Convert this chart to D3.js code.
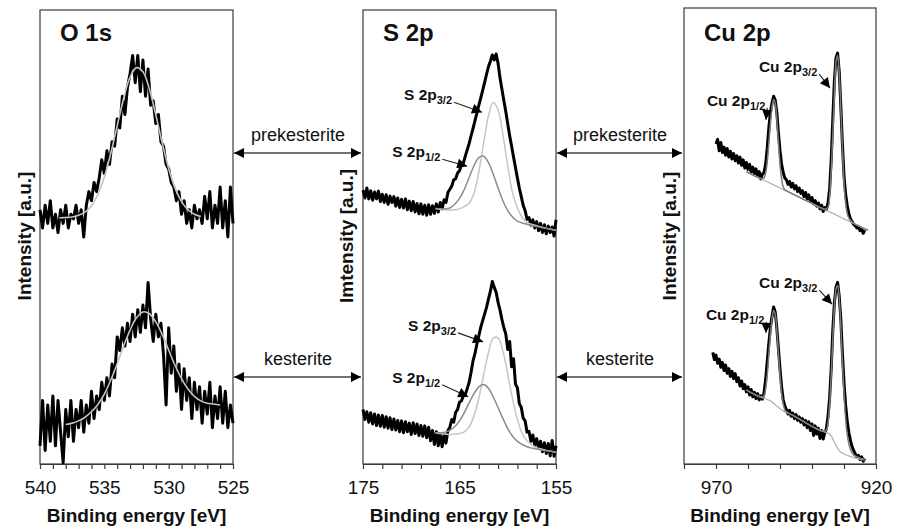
<!DOCTYPE html>
<html>
<head>
<meta charset="utf-8">
<script src="https://cdn.jsdelivr.net/npm/d3@7"></script>
<style>
  body { margin: 0; background: #fff; }
  svg text { font-family: "Liberation Sans", Arial, sans-serif; fill: #111; }
</style>
</head>
<body>
<svg id="chart" width="897" height="531"></svg>
<script>
// ---------- data (intensity in a.u.) ----------

// O 1s, sampled every 0.2 eV from 540 to 525
const o1sEnergy = d3.range(540, 524.99, -0.2);
const o1sPre = [56,52,57,53,58,52,55,51,56,53,57,52,55,54,57,53,56,50,57,60,
  58,62,60,63,67,64,69,66,71,70,76,74,81,77,83,86,90,84,90,82,
  89,81,87,79,80,75,77,71,70,66,65,62,61,58,60,55,58,53,56,52,
  57,54,56,53,59,54,60,52,57,53,61,52,58,50,61,53];
const o1sKes = [4,14,3,13,5,15,4,14,7,0.3,12,6,14,5,12,8,14,7,13,9,
  16,10,15,12,18,14,19,15,22,19,28,25,30,26,31,27,33,28,34,29,
  35,30,40,32,27,33,28,31,24,13,30,20,26,16,22,12,21,14,19,10,
  18,12,17,9,16,11,18,8,15,10,17,9,16,8,13,9];
const o1sPreFit = [[538.5,54.2],[538,54.3],[537.5,54.4],[537,54.8],[536.5,55.5],[536,56.9],
  [535.5,59.4],[535,63.2],[534.5,68.4],[534,74.5],[533.5,80.5],[533,85.2],[532.5,87.3],
  [532,86.4],[531.5,82.6],[531,76.9],[530.5,70.7],[530,65.1],[529.5,60.7],[529,57.8],
  [528.5,56],[528,55],[527.5,54.5]];
const o1sKesFit = [[538,8.7],[537.5,9],[537,9.5],[536.5,10.3],[536,11.5],[535.5,13.1],
  [535,15.4],[534.5,18.5],[534,22.1],[533.5,26],[533,29.5],[532.5,32.2],[532,33.5],
  [531.5,33.1],[531,31.3],[530.5,28.5],[530,25.1],[529.5,21.7],[529,18.8],[528.5,16.5],
  [528,14.9],[527.5,13.9],[527,13.4],[526.5,13.2],[526,13]];

// S 2p, sampled every 0.2 eV from 175 to 155
const s2pEnergy = d3.range(175, 154.99, -0.2);
const s2pPre = [60.3,58.6,60.8,58.4,60.2,58.1,59.9,58.4,60.1,57.8,59.4,57.6,59.3,57.2,59,57.6,58.9,56.8,58.6,56.5,
  58.3,56.4,58.4,56,57.9,55.8,57.8,55.5,57.4,55.1,57.3,55,57,54.8,57.1,55,56.9,55.2,57.3,55.5,
  57.6,56.2,58.2,57.6,59.8,60.5,61.2,62.6,62.8,64.1,64.6,65.9,66.3,67.8,69.2,70.6,72.3,73.9,75.6,77.3,
  79,80.6,82.3,84,85.8,87.5,88.7,90.1,89,90.3,88.2,85,82.5,80,77.6,74.9,72.3,70,67.6,65.3,
  63,60.8,58.9,57,55.8,53.9,54.3,52.6,53.8,52,53.4,51.4,53,51,52.7,50.7,52.4,51,52.2,50.2,53.8];
const s2pKes = [12,9.8,11.5,9.2,11.3,8.8,11,8.5,10.8,8.3,10.7,8.1,10.4,7.9,10.2,7.6,9.9,7.5,9.6,7.1,
  9.5,6.9,9.3,7.1,9,6.5,9.1,6.7,8.8,6.3,8.5,6.1,8.4,5.8,8.1,5.1,7.4,4.3,7.1,4,
  6.7,3.8,6.5,4.6,7.4,8.1,9.8,9.2,11.4,12,13.6,13.9,15,15.3,16.6,18,20.2,22.7,24.3,26.4,
  28.2,30.1,31.6,33,34.5,36.3,38,40.2,38.9,37.8,35.6,33.9,31.8,30,28.6,25.2,27,21.4,23.2,17.6,
  16.8,13.3,12.5,10.1,9.5,7,7.2,5,6.4,4,5.6,3.4,5,2.7,4.7,2.3,4.5,1.8,5.2,1.7,4];
const s2pPre32 = [[167.5,56.3],[167,56.1],[166.5,56],[166,55.9],[165.5,56],[165,56.2],[164.5,56.7],
  [164,57.5],[163.5,59.6],[163,64.3],[162.5,70.6],[162,76.6],[161.5,79.6],[161,78],[160.5,72.5],
  [160,65.6],[159.5,59.7],[159,56.4],[158.5,54.3],[158,53.2],[157.5,52.8],[157,52.5],[156.5,52.2],
  [156,51.9],[155.5,51.7],[155,51.5]];
const s2pPre12 = [[167.5,56.3],[167,56.2],[166.5,56.2],[166,56.4],[165.5,57.2],[165,58.5],[164.5,60.5],
  [164,63.1],[163.5,65.7],[163,67.5],[162.5,67.8],[162,66.4],[161.5,63.8],[161,60.8],[160.5,58],
  [160,55.8],[159.5,54.4],[159,53.5],[158.5,53.1],[158,52.8],[157.5,52.5],[157,52.3],[156.5,52.1],
  [156,51.9],[155.5,51.7],[155,51.5]];
const s2pKes32 = [[167.5,6.9],[167,6.7],[166.5,6.6],[166,6.5],[165.5,6.6],[165,6.7],[164.5,7.1],
  [164,8.2],[163.5,10.6],[163,14.5],[162.5,19.6],[162,24.5],[161.5,27.7],[161,27.8],[160.5,24.9],
  [160,19.8],[159.5,14.3],[159,9.8],[158.5,6.7],[158,5.1],[157.5,4.2],[157,3.6],[156.5,3.3],
  [156,3],[155.5,2.8],[155,2.6]];
const s2pKes12 = [[167.5,6.9],[167,6.9],[166.5,7],[166,7.4],[165.5,8.2],[165,9.5],[164.5,11.3],
  [164,13.5],[163.5,15.5],[163,17],[162.5,17.5],[162,16.7],[161.5,14.8],[161,12.4],[160.5,10],
  [160,7.8],[159.5,6.1],[159,5],[158.5,4.3],[158,3.8],[157.5,3.5],[157,3.3],[156.5,3.1],
  [156,2.9],[155.5,2.8],[155,2.6]];

// Cu 2p, sampled every 0.5 eV
const cuPreEnergy = d3.range(970, 923.49, -0.5);
const cuPre = [70.5,71.5,69,70.8,68.6,69.8,68,69.5,67.6,68.9,67.2,68.4,66.8,67.9,66.3,67.6,65.8,67,65.2,66.4,
  64.9,66,64.3,65.4,63.9,65,63.5,64.4,62.8,63.8,64.2,66,69.5,74,77.5,79.5,81,80.2,77.5,73,
  69,66,64.2,63,62.6,61.6,62.2,61,61.8,60.6,61.3,60,60.8,59.6,60.2,58.9,59.8,58.4,59.3,57.8,
  58.7,57.3,58,56.8,57.5,56.2,57,55.6,56.5,56,57.5,60.5,67,76,84.5,89.5,90.5,86.5,79,70.5,
  63.5,59.5,57,55.2,54,53.4,52.8,52.5,52,52.2,51.4,51.9,50.8,51.5];
const cuKesEnergy = d3.range(971, 923.49, -0.5);
const cuKes = [24.6,23,24,22.2,23.1,21.3,22.4,20.6,21.8,20,21,19.3,20.4,18.8,19.9,18.1,19,17.2,18.3,16.6,
  17.5,15.9,17,15.2,16.4,14.8,15.8,14.4,15.5,14.1,15,14.3,15.6,18.5,22.5,26.5,30,32.5,34.6,33.5,
  30,25.5,21,17,14.2,12.8,12,11,11.8,10.5,11.2,10,10.9,9.6,10.4,9.2,10,8.6,9.6,8,
  9.3,7.4,8.8,6.3,8.4,6.6,7.9,5.6,7.4,5.5,6.9,7.8,10.5,14.5,21,29.5,35.5,39,40,37,
  32,24.5,18,13,9.5,7,5.2,3.9,3,2.3,1.6,1.9,1,1.6,0.6,1.2];
const cuPreBg = [[960.5,64.4],[955,62.5],[950,60.8],[945,59.1],[940,57.4],[935,55.7],[932,54.7],
  [930,54],[927,53],[925,52.3],[922.5,51.5]];
const cuPreFit = [[960.5,64.4],[956,62.9],[955,63],[954.5,64],[954,66.5],[953.5,70.5],[953,75],
  [952.5,78.5],[952,80.3],[951.5,79.5],[951,76],[950.5,71],[950,66],[949.5,62.8],[949,61],
  [948.5,60.4],[948,60.2],[945,59.1],[940,57.4],[936,56.1],[935,56.5],[934.5,59],[934,64.5],
  [933.5,72.5],[933,81.5],[932.5,88.5],[932,90],[931.5,86],[931,78.5],[930.5,69.5],[930,62],
  [929.5,57.5],[929,55.2],[928.5,54.2],[928,53.7],[927,53],[925,52.3],[922.5,51.5]];
const cuKesBg = [[960.5,16.3],[957,15],[955,14.5],[953,13.9],[951,12.8],[949,11.7],[946,10.7],
  [943,9.5],[940,8.3],[937,7.3],[935,6.8],[934,6.2],[933,4.8],[932,3.5],[931,2.6],[929,1.9],
  [927,1.4],[925,1.1],[923.5,0.9]];
const cuKesFit = [[960.5,16.3],[956,14.8],[955,15],[954.5,16.5],[954,19.5],[953.5,24],[953,28.5],
  [952.5,32],[952,33.8],[951.5,33],[951,29.5],[950.5,24.5],[950,19.5],[949.5,15.5],[949,13.2],
  [948.5,12],[948,11.5],[945,10.4],[940,8.3],[937,7.3],[935.5,7.5],[935,9],[934.5,13],[934,19.5],
  [933.5,27.5],[933,34.5],[932.5,38.5],[932,39.3],[931.5,36.5],[931,30.5],[930.5,22.5],[930,15.5],
  [929.5,10],[929,6.5],[928.5,4.5],[928,3.2],[927,2],[925,1.3],[923.5,1]];

// peak labels: arrow tip in data units, text offset in px from the tip
const s2pLabels = [
  { main: "S 2p", sub: "3/2", e: 162.67, v: 77.5, dx: -78, dy: -12 },
  { main: "S 2p", sub: "1/2", e: 164.2, v: 65.6, dx: -75, dy: -9 },
  { main: "S 2p", sub: "3/2", e: 162.56, v: 26.9, dx: -75, dy: -11 },
  { main: "S 2p", sub: "1/2", e: 164.1, v: 14.8, dx: -76, dy: -14 }
];
const cuLabels = [
  { main: "Cu 2p", sub: "3/2", e: 934.4, v: 82.8, dx: -71, dy: -16 },
  { main: "Cu 2p", sub: "1/2", e: 954.4, v: 75.8, dx: -59, dy: -14 },
  { main: "Cu 2p", sub: "3/2", e: 933.75, v: 35.2, dx: -73, dy: -16 },
  { main: "Cu 2p", sub: "1/2", e: 954.4, v: 28.9, dx: -60, dy: -13 }
];

const sampleNames = ["prekesterite", "kesterite"];
const sampleLevel = [153, 377];

// ---------- drawing ----------
const svg = d3.select("#chart");
const defs = svg.append("defs");
defs.append("marker").attr("id", "tri").attr("viewBox", "0 0 10 10")
  .attr("refX", 10).attr("refY", 5).attr("markerWidth", 12).attr("markerHeight", 10)
  .attr("markerUnits", "userSpaceOnUse").attr("orient", "auto-start-reverse")
  .append("path").attr("d", "M0,0L10,5L0,10Z").attr("fill", "#000");
defs.append("marker").attr("id", "tri-s").attr("viewBox", "0 0 10 10")
  .attr("refX", 10).attr("refY", 5).attr("markerWidth", 13).attr("markerHeight", 10)
  .attr("markerUnits", "userSpaceOnUse").attr("orient", "auto")
  .append("path").attr("d", "M0,0L10,5L0,10Z").attr("fill", "#000");

const pairs = (energy, vals) => vals.map((v, i) => [energy[i], v]);

const panels = [
  {
    title: "O 1s", left: 40, right: 233, top: 10, domain: [540, 525],
    ticks: d3.range(540, 524.5, -1), labels: [540, 535, 530, 525],
    ylabel: "Intensity [a.u.]", ylabelX: 31,
    series: [
      { d: pairs(o1sEnergy, o1sPre), raw: true },
      { d: pairs(o1sEnergy, o1sKes), raw: true },
      { d: o1sPreFit, color: "#c4c4c4", w: 1.6 },
      { d: o1sKesFit, color: "#c4c4c4", w: 1.6 }
    ],
    notes: []
  },
  {
    title: "S 2p", left: 363, right: 556, top: 10, domain: [175, 155],
    ticks: d3.range(175, 154.5, -2), labels: [175, 165, 155],
    ylabel: "Imtensity [a.u.]", ylabelX: 353,
    series: [
      { d: pairs(s2pEnergy, s2pPre), raw: true },
      { d: pairs(s2pEnergy, s2pKes), raw: true },
      { d: s2pPre32, color: "#c6c6c6", w: 1.5 },
      { d: s2pPre12, color: "#8c8c8c", w: 1.5 },
      { d: s2pKes32, color: "#c6c6c6", w: 1.5 },
      { d: s2pKes12, color: "#8c8c8c", w: 1.5 }
    ],
    notes: s2pLabels
  },
  {
    title: "Cu 2p", left: 684, right: 876, top: 8, domain: [980, 920],
    ticks: d3.range(980, 919, -10), labels: [970, 920],
    ylabel: "Intensity [a.u.]", ylabelX: 676,
    series: [
      { d: pairs(cuPreEnergy, cuPre), raw: true },
      { d: pairs(cuKesEnergy, cuKes), raw: true },
      { d: cuPreBg, color: "#b4b4b4", w: 1.3 },
      { d: cuKesBg, color: "#b4b4b4", w: 1.3 },
      { d: cuPreFit, color: "#7a7a7a", w: 1.5 },
      { d: cuKesFit, color: "#7a7a7a", w: 1.5 }
    ],
    notes: cuLabels
  }
];

const bottom = 464;

panels.forEach(p => {
  const x = d3.scaleLinear().domain(p.domain).range([p.left, p.right]);
  const y = d3.scaleLinear().domain([0, 100]).range([bottom, 10]);
  const g = svg.append("g");

  g.append("rect")
    .attr("x", p.left).attr("y", p.top)
    .attr("width", p.right - p.left).attr("height", bottom - p.top)
    .attr("fill", "none").attr("stroke", "#3a3a3a").attr("stroke-width", 1.2);

  const axis = g.append("g").attr("transform", `translate(0,${bottom})`)
    .call(d3.axisBottom(x).tickValues(p.ticks)
      .tickFormat(d => p.labels.includes(d) ? d : "")
      .tickSize(5).tickSizeOuter(0).tickPadding(12));
  axis.select(".domain").attr("stroke", "#3a3a3a").attr("stroke-width", 1.2);
  axis.selectAll(".tick line").attr("stroke", "#3a3a3a").attr("stroke-width", 1.2);
  axis.selectAll(".tick text")
    .attr("font-size", 19).attr("fill", "#111")
    .attr("font-family", "'Liberation Sans', Arial, sans-serif");

  g.append("text")
    .attr("x", (p.left + p.right) / 2).attr("y", 522)
    .attr("text-anchor", "middle").attr("font-size", 19).attr("font-weight", "bold")
    .text("Binding energy [eV]");

  g.append("text")
    .attr("transform", `translate(${p.ylabelX},236) rotate(-90)`)
    .attr("text-anchor", "middle").attr("font-size", 19).attr("font-weight", "bold")
    .text(p.ylabel);

  g.append("text")
    .attr("x", p.left + 20).attr("y", 41)
    .attr("font-size", 24).attr("font-weight", "bold")
    .text(p.title);

  const line = d3.line().x(d => x(d[0])).y(d => y(d[1]));
  const smooth = d3.line().x(d => x(d[0])).y(d => y(d[1])).curve(d3.curveCatmullRom);

  p.series.filter(s => s.raw).forEach(s => {
    g.append("path").datum(s.d)
      .attr("d", line)
      .attr("fill", "none").attr("stroke", "#000")
      .attr("stroke-width", 3).attr("stroke-linejoin", "round");
  });
  p.series.filter(s => !s.raw).forEach(s => {
    g.append("path").datum(s.d)
      .attr("d", smooth)
      .attr("fill", "none").attr("stroke", s.color).attr("stroke-width", s.w);
  });

  p.notes.forEach(n => {
    const tx = x(n.e), ty = y(n.v);
    const t = g.append("text")
      .attr("x", tx + n.dx).attr("y", ty + n.dy)
      .attr("font-size", 15.5).attr("font-weight", "bold");
    t.append("tspan").text(n.main);
    t.append("tspan").attr("font-size", 11).attr("dy", 4).text(n.sub);
    const w = t.node().getComputedTextLength();
    g.append("line")
      .attr("x1", tx + n.dx + w + 2).attr("y1", ty + n.dy + 2)
      .attr("x2", tx).attr("y2", ty)
      .attr("stroke", "#222").attr("stroke-width", 1.1)
      .attr("marker-end", "url(#tri-s)");
  });
});

// sample arrows between the panels
const gaps = [[panels[0].right, panels[1].left], [panels[1].right, panels[2].left]];
gaps.forEach(([a, b]) => {
  sampleNames.forEach((name, i) => {
    const yy = sampleLevel[i];
    svg.append("line")
      .attr("x1", a + 1).attr("x2", b - 2).attr("y1", yy).attr("y2", yy)
      .attr("stroke", "#444").attr("stroke-width", 1.3)
      .attr("marker-start", "url(#tri)").attr("marker-end", "url(#tri)");
    svg.append("text")
      .attr("x", (a + b) / 2).attr("y", yy - 12)
      .attr("text-anchor", "middle").attr("font-size", 18).attr("fill", "#222")
      .text(name);
  });
});
</script>
</body>
</html>
